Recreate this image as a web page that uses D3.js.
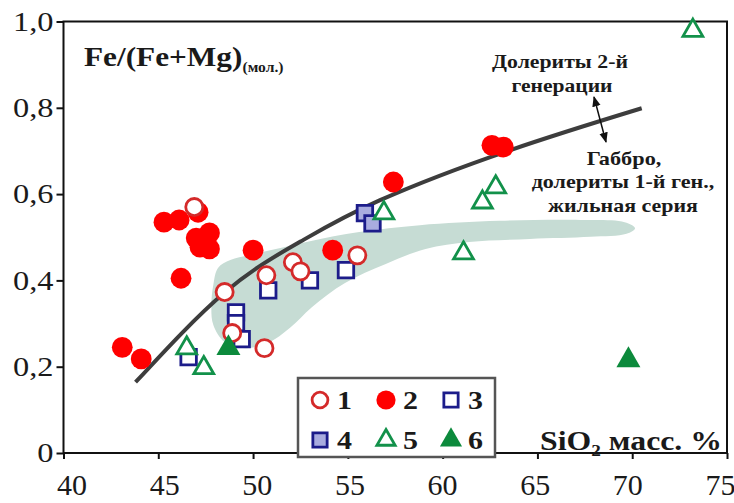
<!DOCTYPE html>
<html>
<head>
<meta charset="utf-8">
<script src="https://cdn.jsdelivr.net/npm/d3@7"></script>
<style>
body { margin: 0; background: #fff; }
svg { display: block; }
</style>
</head>
<body>
<svg width="734" height="503"></svg>
<script>
// tick values / labels
var xTicks = [40, 45, 50, 55, 60, 65, 70, 75];
var yTicks = [0, 0.2, 0.4, 0.6, 0.8, 1.0];
var yTickLabels = ['0', '0,2', '0,4', '0,6', '0,8', '1,0'];

// [SiO2, Fe/(Fe+Mg)]
var series1 = [[46.9, 0.570], [48.5, 0.373], [50.7, 0.412], [52.1, 0.442], [52.5, 0.421],
               [55.5, 0.458], [48.9, 0.278], [50.6, 0.243]];
var series2 = [[43.1, 0.245], [44.1, 0.218], [45.3, 0.535], [46.1, 0.540], [47.1, 0.558],
               [47.0, 0.498], [47.7, 0.510], [47.2, 0.477], [47.7, 0.473], [46.2, 0.405],
               [50.0, 0.470], [54.2, 0.470], [57.4, 0.628], [62.6, 0.713], [63.2, 0.709]];
var series3 = [[46.6, 0.222], [49.1, 0.326], [49.1, 0.301], [49.4, 0.264], [50.8, 0.377],
               [53.0, 0.400], [54.9, 0.424]];
var series4 = [[55.9, 0.556], [56.3, 0.532]];
var series5 = [[46.5, 0.243], [47.4, 0.197], [56.9, 0.556], [62.8, 0.616], [62.1, 0.581],
               [61.1, 0.463], [73.2, 0.979]];
var series6 = [[48.7, 0.243], [69.8, 0.215]];

// boundary line between the two groups
var boundary = [[43.8, 0.164], [48.5, 0.372], [52.5, 0.490], [56.7, 0.586],
                [63.5, 0.701], [70.5, 0.799]];

// shaded field
var field = [[47.9, 0.389], [48.15, 0.429], [48.8, 0.447], [49.8, 0.459], [51.2, 0.473],
             [53.0, 0.491], [55.6, 0.512], [58.8, 0.528], [63.0, 0.538], [67.25, 0.540],
             [69.6, 0.535], [70.15, 0.521], [69.7, 0.508], [67.8, 0.501], [64.6, 0.496],
             [61.4, 0.489], [59.1, 0.473], [57.0, 0.438], [54.85, 0.394], [53.1, 0.338],
             [51.95, 0.290], [50.8, 0.255], [49.6, 0.243], [48.5, 0.257], [47.9, 0.297],
             [47.8, 0.343]];

var legendLabels = ['1', '2', '3', '4', '5', '6'];

var FONT = 'Liberation Serif';

var svg = d3.select('svg'),
    g = svg.append('g').attr('font-family', FONT);

var x = d3.scaleLinear().domain([40, 75]).range([63.5, 727]);
var y = d3.scaleLinear().domain([0, 1]).range([453, 21.5]);

// marker styles per series
var styles = [
    {type: d3.symbolCircle, size: 230, fill: '#fff', stroke: '#d42a2a', sw: 2.8},
    {type: d3.symbolCircle, size: 340, fill: '#ff0000', stroke: 'none', sw: 0},
    {type: d3.symbolSquare, size: 240, fill: '#fff', stroke: '#1c1c8a', sw: 2.8},
    {type: d3.symbolSquare, size: 240, fill: '#a9acdf', stroke: '#1c1c8a', sw: 2.8},
    {type: d3.symbolTriangle, size: 170, fill: '#fff', stroke: '#12914a', sw: 2.8},
    {type: d3.symbolTriangle, size: 250, fill: '#0c8a3c', stroke: 'none', sw: 0}
];
var allSeries = [series1, series2, series3, series4, series5, series6];

function sym(st) {
    return d3.symbol().type(st.type).size(st.size)();
}

// bold serif text, stretched horizontally to the width it has in the figure
function label(sel, px, py, str, size, anchor, width) {
    var t = sel.append('text')
        .attr('font-family', FONT)
        .attr('font-size', size)
        .attr('font-weight', 'bold')
        .attr('fill', '#1a1a1a')
        .attr('text-anchor', anchor)
        .attr('transform', 'translate(' + px + ',' + py + ')')
        .text(str);
    t.fitTo = function(w) {
        var bw = t.node().getBBox().width;
        t.attr('transform', 'translate(' + px + ',' + py + ') scale(' + (w / bw) + ',1)');
        return t;
    };
    if (width) t.fitTo(width);
    return t;
}

// field
g.append('path')
    .datum(field)
    .attr('d', d3.line().x(function(d) { return x(d[0]); }).y(function(d) { return y(d[1]); })
        .curve(d3.curveCatmullRomClosed))
    .attr('fill', '#c6dcd4')
    .attr('stroke', 'none');

// boundary curve
g.append('path')
    .datum(boundary)
    .attr('d', d3.line().x(function(d) { return x(d[0]); }).y(function(d) { return y(d[1]); })
        .curve(d3.curveNatural))
    .attr('fill', 'none')
    .attr('stroke', '#3d3d3d')
    .attr('stroke-width', 4);

// axes
var yAxis = g.append('g')
    .attr('transform', 'translate(63.5,0)')
    .call(d3.axisLeft(y).tickValues(yTicks).tickFormat(function(d, i) { return yTickLabels[i]; })
        .tickSize(7).tickSizeOuter(0).tickPadding(3));
var xAxis = g.append('g')
    .attr('transform', 'translate(0,453)')
    .call(d3.axisBottom(x).tickValues(xTicks).tickFormat(d3.format('d'))
        .tickSize(6).tickSizeOuter(0).tickPadding(15));

[yAxis, xAxis].forEach(function(a) {
    a.attr('font-family', FONT).attr('font-size', null);
    a.select('.domain').remove();
    a.selectAll('line').attr('stroke', '#111').attr('stroke-width', 2);
    a.selectAll('text').attr('fill', '#1a1a1a');
});
yAxis.selectAll('text').attr('font-size', 27).each(function() {
    var t = d3.select(this), tx = +t.attr('x');
    t.attr('x', tx / 1.2).attr('transform', 'scale(1.2,1)');
});
xAxis.selectAll('text').attr('font-size', 30)
    .attr('dx', function(d, i) { return 8 - 15 * i / (xTicks.length - 1); });

// frame
g.append('rect')
    .attr('x', 63.5).attr('y', 21.5)
    .attr('width', 727 - 63.5).attr('height', 453 - 21.5)
    .attr('fill', 'none').attr('stroke', '#111').attr('stroke-width', 2);

// points (drawing order keeps open markers above filled ones, as in the figure)
[3, 2, 1, 0, 4, 5].forEach(function(k) {
    var st = styles[k];
    g.selectAll('.s' + k)
        .data(allSeries[k])
        .enter()
        .append('path')
        .attr('class', 's' + k)
        .attr('d', sym(st))
        .attr('transform', function(d) { return 'translate(' + x(d[0]) + ',' + y(d[1]) + ')'; })
        .attr('fill', st.fill)
        .attr('stroke', st.stroke)
        .attr('stroke-width', st.sw);
});

// titles
var yt = label(g, 84, 66, 'Fe/(Fe+Mg)', 28, 'start');
yt.append('tspan').attr('font-size', 14).attr('dy', 6).text('(мол.)');
yt.fitTo(200);

var xt = label(g, 722, 450, '', 28, 'end');
xt.append('tspan').text('SiO');
xt.append('tspan').attr('font-size', 17).attr('dy', 6).text('2');
xt.append('tspan').attr('dy', -6).text(' масс. %');
xt.fitTo(182);

// annotations
label(g, 560, 68, 'Долериты 2-й', 19, 'middle', 136);
label(g, 562, 92, 'генерации', 19, 'middle', 101);
label(g, 624, 165, 'Габбро,', 19, 'middle', 75);
label(g, 623, 188, 'долериты 1-й ген.,', 19, 'middle', 183);
label(g, 623, 212, 'жильная серия', 19, 'middle', 150);

svg.append('defs').append('marker')
    .attr('id', 'ah').attr('viewBox', '0 0 10 10').attr('refX', 9).attr('refY', 5)
    .attr('markerWidth', 7).attr('markerHeight', 7).attr('orient', 'auto-start-reverse')
    .append('path').attr('d', 'M0,1L10,5L0,9Z').attr('fill', '#111');
g.append('line')
    .attr('x1', 594).attr('y1', 97).attr('x2', 606).attr('y2', 142)
    .attr('stroke', '#111').attr('stroke-width', 1.5)
    .attr('marker-start', 'url(#ah)').attr('marker-end', 'url(#ah)');

// legend
var lg = g.append('g');
lg.append('rect')
    .attr('x', 298).attr('y', 378).attr('width', 197).attr('height', 79)
    .attr('fill', '#fff').attr('stroke', '#555').attr('stroke-width', 2.5);
var cols = [320, 386, 451], rows = [400, 440];
legendLabels.forEach(function(lab, i) {
    var cx = cols[i % 3], cy = rows[Math.floor(i / 3)], st = styles[i];
    lg.append('path')
        .attr('d', d3.symbol().type(st.type).size(st.size * 0.85)())
        .attr('transform', 'translate(' + cx + ',' + cy + ')')
        .attr('fill', st.fill).attr('stroke', st.stroke).attr('stroke-width', st.sw);
    label(lg, cx + 17, cy + 9, lab, 26, 'start', 15);
});
</script>
</body>
</html>
